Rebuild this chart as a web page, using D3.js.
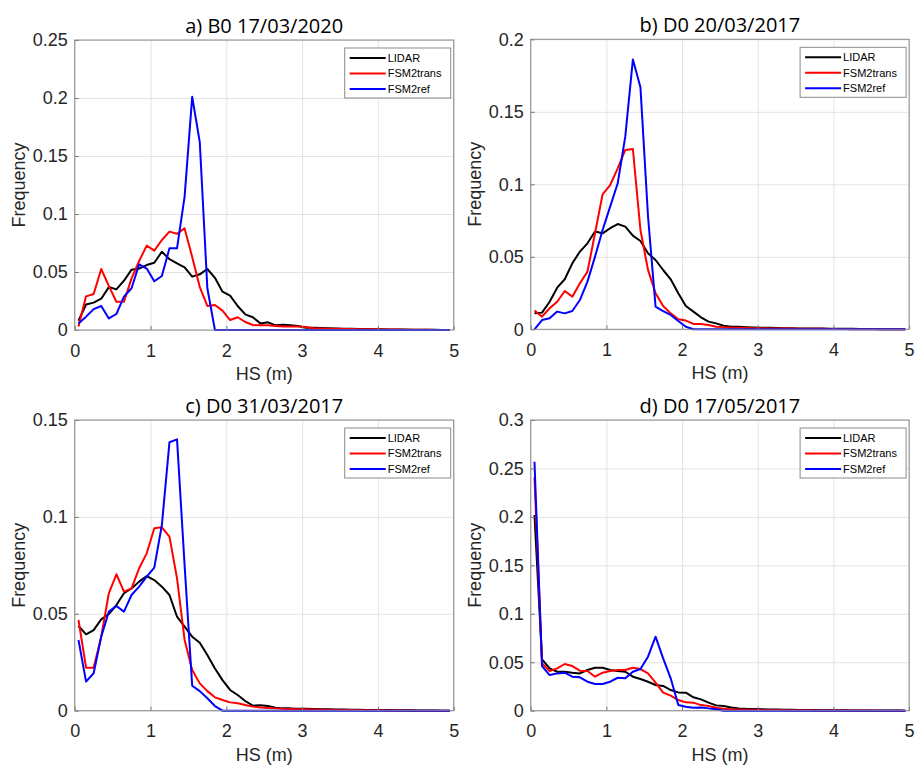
<!DOCTYPE html>
<html lang="en">
<head>
<meta charset="utf-8">
<style>
  body { margin: 0; background: #fff; }
  svg { display: block; }
  .tick text { font-family: "Liberation Sans", Arial, sans-serif; font-size: 18px; fill: #262626; }
  .grid line { stroke: #e3e3e3; stroke-width: 1; }
  .grid path { display: none; }
</style>
</head>
<body>
<script src="https://cdn.jsdelivr.net/npm/d3@7"></script>
<script>

// bin centres (m)
var binCenters = [0.05,0.15,0.25,0.35,0.45,0.55,0.65,0.75,0.85,0.95,
                  1.05,1.15,1.25,1.35,1.45,1.55,1.65,1.75,1.85,1.95,
                  2.05,2.15,2.25,2.35,2.45,2.55,2.65,2.75,2.85,2.95,
                  3.05,3.15,3.25,3.35,3.45,3.55,3.65,3.75,3.85,3.95,
                  4.05,4.15,4.25,4.35,4.45,4.55,4.65,4.75,4.85,4.95];

var seriesNames = ["LIDAR", "FSM2trans", "FSM2ref"];
var panelTitles = ["a) B0 17/03/2020", "b) D0 20/03/2017", "c) D0 31/03/2017", "d) D0 17/05/2017"];
var xTicks = [0, 1, 2, 3, 4, 5];
var yTicksA = [0, 0.05, 0.1, 0.15, 0.2, 0.25];
var yTicksB = [0, 0.05, 0.1, 0.15, 0.2];
var yTicksC = [0, 0.05, 0.1, 0.15];
var yTicksD = [0, 0.05, 0.1, 0.15, 0.2, 0.25, 0.3];

// a) B0 17/03/2020
var lidarA = [0.008,0.022,0.0236,0.027,0.037,0.035,0.0425,0.052,0.053,0.056,
              0.058,0.0675,0.061,0.0575,0.054,0.046,0.048,0.0526,0.045,0.033,
              0.0296,0.0207,0.0135,0.011,0.0057,0.0066,0.004,0.0046,0.004,0.0035,
              0.002,0.002,0.0018,0.0015,0.0012,0.001,0.001,0.0008,0.0008,0.0006,
              0.0006,0.0005,0.0004,0.0004,0.0003,0.0003,0.0002,0.0002,0.0001,0.0001];
var transA = [0.003,0.029,0.031,0.0526,0.038,0.0244,0.0244,0.0445,0.0595,0.0727,
              0.0684,0.0776,0.0848,0.083,0.0876,0.063,0.037,0.0207,0.0216,0.0167,
              0.0086,0.011,0.0069,0.0043,0.004,0.004,0.0035,0.003,0.003,0.003,
              0.0025,0.0015,0.0012,0.001,0.001,0.0008,0.0008,0.0007,0.0006,0.0006,
              0.0005,0.0005,0.0004,0.0003,0.0003,0.0002,0.0002,0.0001,0.0001,0];
var refA   = [0.0057,0.0115,0.018,0.0207,0.010,0.0138,0.0287,0.036,0.0566,0.053,
              0.042,0.0466,0.0704,0.0704,0.115,0.201,0.162,0.036,0,0,
              0,0,0,0,0,0,0,0,0,0,
              0,0,0,0,0,0,0,0,0,0,
              0,0,0,0,0,0,0,0,0,0];

// b) D0 20/03/2017
var lidarB = [0.011,0.0115,0.019,0.0287,0.0345,0.0455,0.0536,0.0593,0.0674,0.0662,
              0.0697,0.0726,0.0708,0.0646,0.0609,0.0524,0.0478,0.0409,0.0345,0.0248,
              0.0161,0.0122,0.0083,0.0053,0.0041,0.0025,0.0018,0.0018,0.0015,0.0013,
              0.001,0.001,0.0009,0.0008,0.0007,0.0006,0.0006,0.0005,0.0005,0.0004,
              0.0004,0.0003,0.0003,0.0002,0.0002,0.0002,0.0001,0.0001,0.0001,0];
var transB = [0.0129,0.0087,0.0145,0.019,0.0264,0.0225,0.0317,0.0398,0.0662,0.0931,
              0.0995,0.111,0.1237,0.1244,0.0685,0.041,0.0249,0.0161,0.011,0.0069,
              0.006,0.0037,0.0037,0.003,0.0018,0.0015,0.001,0.001,0.0009,0.0008,
              0.0007,0.0006,0.0006,0.0005,0.0005,0.0004,0.0004,0.0003,0.0003,0.0002,
              0.0002,0.0002,0.0001,0.0001,0.0001,0.0001,0,0,0,0];
var refB   = [0,0.0064,0.0076,0.0122,0.011,0.0126,0.0202,0.0329,0.0501,0.0685,
              0.0846,0.1007,0.133,0.186,0.167,0.078,0.0156,0.0126,0.0099,0.0057,
              0.0018,0,0,0,0,0,0,0,0,0,
              0,0,0,0,0,0,0,0,0,0,
              0,0,0,0,0,0,0,0,0,0];

// c) D0 31/03/2017
var lidarC = [0.0437,0.0394,0.0416,0.0471,0.0499,0.0545,0.0606,0.0631,0.0666,0.0695,
              0.0674,0.064,0.0597,0.0485,0.0434,0.0382,0.0351,0.0287,0.0218,0.0158,
              0.0107,0.0081,0.005,0.0026,0.0028,0.0024,0.0015,0.0012,0.0012,0.001,
              0.001,0.0009,0.0008,0.0007,0.0006,0.0006,0.0005,0.0005,0.0004,0.0004,
              0.0003,0.0003,0.0002,0.0002,0.0002,0.0001,0.0001,0.0001,0,0];
var transC = [0.0468,0.0222,0.0222,0.0382,0.0606,0.0704,0.0614,0.0631,0.0735,0.0812,
              0.0941,0.0946,0.0898,0.0683,0.0365,0.021,0.0141,0.0101,0.0069,0.0055,
              0.0043,0.0038,0.0029,0.0021,0.0017,0.0014,0.0012,0.001,0.0009,0.0008,
              0.0007,0.0006,0.0005,0.0005,0.0004,0.0004,0.0003,0.0003,0.0002,0.0002,
              0.0002,0.0001,0.0001,0.0001,0,0,0,0,0,0];
var refC   = [0.0365,0.015,0.0193,0.0382,0.0511,0.054,0.0511,0.0597,0.064,0.0692,
              0.0738,0.0958,0.1385,0.14,0.075,0.0129,0.0101,0.0064,0.0024,0,
              0,0,0,0,0,0,0,0,0,0,
              0,0,0,0,0,0,0,0,0,0,
              0,0,0,0,0,0,0,0,0,0];

// d) D0 17/05/2017
var lidarD = [0.202,0.053,0.0437,0.0402,0.0402,0.0392,0.0385,0.042,0.0444,0.0444,
              0.042,0.041,0.0402,0.0351,0.0327,0.0299,0.0265,0.0255,0.0213,0.0189,
              0.0186,0.0138,0.0117,0.0083,0.0055,0.0048,0.0034,0.0024,0.002,0.0018,
              0.0015,0.0013,0.0012,0.001,0.0009,0.0008,0.0007,0.0006,0.0005,0.0005,
              0.0004,0.0004,0.0003,0.0003,0.0002,0.0002,0.0001,0.0001,0.0001,0];
var transD = [0.241,0.0488,0.0409,0.0437,0.0482,0.0461,0.0413,0.0409,0.0351,0.0392,
              0.0409,0.042,0.042,0.0444,0.043,0.0385,0.0289,0.0186,0.0155,0.011,
              0.0086,0.0083,0.0058,0.0048,0.003,0.002,0.0015,0.0012,0.001,0.0009,
              0.0008,0.0007,0.0006,0.0005,0.0005,0.0004,0.0004,0.0003,0.0003,0.0002,
              0.0002,0.0002,0.0001,0.0001,0.0001,0,0,0,0,0];
var refD   = [0.257,0.046,0.0368,0.0385,0.0392,0.0351,0.0344,0.0299,0.0275,0.0275,
              0.0299,0.034,0.0334,0.0402,0.043,0.0557,0.0764,0.054,0.0334,0.0058,
              0.0041,0.0031,0.0034,0.0024,0.0014,0,0,0,0,0,
              0,0,0,0,0,0,0,0,0,0,
              0,0,0,0,0,0,0,0,0,0];

var colors = ["#000000", "#ff0000", "#0000ff"];

var panels = [
  {title: panelTitles[0], yTicks: yTicksA, series: [lidarA, transA, refA], x: 74.7,  y: 40,   w: 379,   h: 290},
  {title: panelTitles[1], yTicks: yTicksB, series: [lidarB, transB, refB], x: 530.7, y: 39.3, w: 378.4, h: 290},
  {title: panelTitles[2], yTicks: yTicksC, series: [lidarC, transC, refC], x: 74.7,  y: 420,  w: 379,   h: 290.7},
  {title: panelTitles[3], yTicks: yTicksD, series: [lidarD, transD, refD], x: 530.7, y: 420,  w: 378.4, h: 290.7}
];

var svg = d3.select("body").append("svg")
  .attr("width", 917)
  .attr("height", 765);

var fmt = d3.format("~g");

panels.forEach(function(p) {
  var g = svg.append("g").attr("transform", "translate(" + p.x + "," + p.y + ")");

  var x = d3.scaleLinear().domain([0, 5]).range([0, p.w]);
  var y = d3.scaleLinear().domain([0, d3.max(p.yTicks)]).range([p.h, 0]);

  g.append("rect").attr("width", p.w).attr("height", p.h).attr("fill", "#fff");

  // grid
  g.append("g").attr("class", "grid")
    .attr("transform", "translate(0," + p.h + ")")
    .call(d3.axisBottom(x).tickValues(xTicks).tickSize(-p.h).tickFormat(""));
  g.append("g").attr("class", "grid")
    .call(d3.axisLeft(y).tickValues(p.yTicks).tickSize(-p.w).tickFormat(""));

  // lines
  var line = d3.line()
    .x(function(d, i) { return x(binCenters[i]); })
    .y(function(d) { return y(d); });

  p.series.forEach(function(s, k) {
    g.append("path")
      .datum(s)
      .attr("fill", "none")
      .attr("stroke", colors[k])
      .attr("stroke-width", 2)
      .attr("stroke-linejoin", "round")
      .attr("d", line);
  });

  // axes (MATLAB style, ticks inside)
  var xa = g.append("g")
    .attr("transform", "translate(0," + p.h + ")")
    .call(d3.axisBottom(x).tickValues(xTicks).tickSizeInner(-4).tickSizeOuter(0).tickPadding(14).tickFormat(fmt));
  var ya = g.append("g")
    .call(d3.axisLeft(y).tickValues(p.yTicks).tickSizeInner(-4).tickSizeOuter(0).tickPadding(7).tickFormat(fmt));
  [xa, ya].forEach(function(a) {
    a.select(".domain").remove();
    a.selectAll(".tick line").attr("stroke", "#777");
  });

  g.append("rect")
    .attr("width", p.w).attr("height", p.h)
    .attr("fill", "none").attr("stroke", "#8a8a8a").attr("stroke-width", 1);

  // titles and labels
  g.append("text")
    .attr("x", p.w / 2).attr("y", -7)
    .attr("text-anchor", "middle")
    .attr("font-family", "'Open Sans', sans-serif")
    .attr("font-size", 20)
    .attr("fill", "#000")
    .text(p.title);

  g.append("text")
    .attr("x", p.w / 2).attr("y", p.h + 50)
    .attr("text-anchor", "middle")
    .attr("font-family", "'Liberation Sans', Arial, sans-serif")
    .attr("font-size", 18)
    .attr("fill", "#262626")
    .text("HS (m)");

  g.append("text")
    .attr("transform", "translate(-50," + (p.h / 2) + ") rotate(-90)")
    .attr("text-anchor", "middle")
    .attr("font-family", "'Liberation Sans', Arial, sans-serif")
    .attr("font-size", 18)
    .attr("fill", "#262626")
    .text("Frequency");

  // legend
  var lw = 106, lh = 50;
  var lg = g.append("g").attr("transform", "translate(" + (p.w - lw - 3) + ",8)");
  lg.append("rect")
    .attr("width", lw).attr("height", lh)
    .attr("fill", "#fff").attr("stroke", "#8a8a8a").attr("stroke-width", 1);
  seriesNames.forEach(function(name, k) {
    var ly = 10 + k * 15.5;
    lg.append("line")
      .attr("x1", 5).attr("x2", 41).attr("y1", ly).attr("y2", ly)
      .attr("stroke", colors[k]).attr("stroke-width", 2);
    lg.append("text")
      .attr("x", 43).attr("y", ly).attr("dy", "0.35em")
      .attr("font-family", "'Liberation Sans', Arial, sans-serif")
      .attr("font-size", 11)
      .attr("fill", "#000")
      .text(name);
  });
});

</script>
</body>
</html>
